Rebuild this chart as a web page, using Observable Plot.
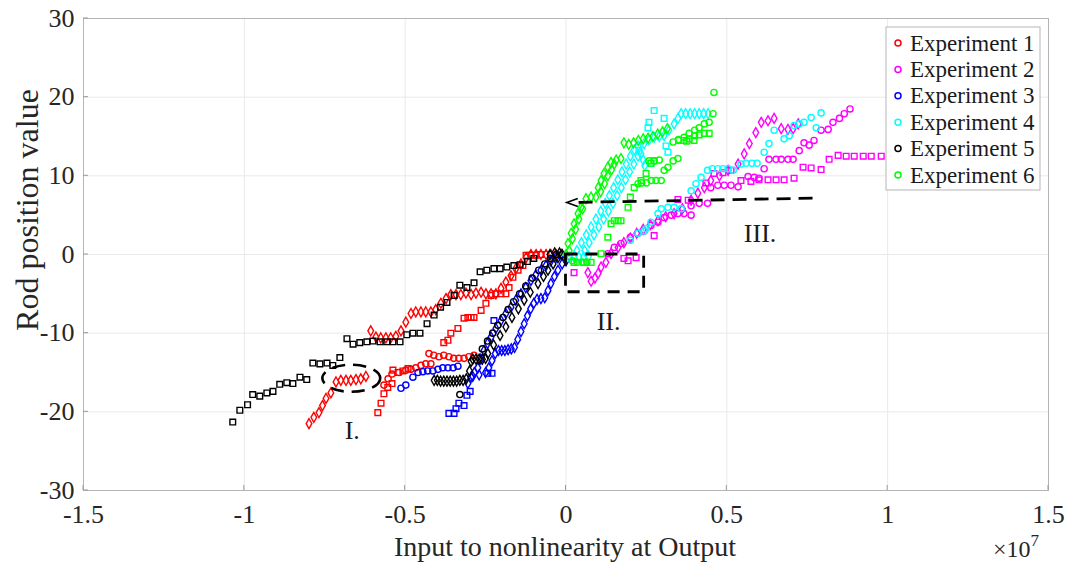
<!DOCTYPE html>
<html>
<head>
<meta charset="utf-8">
<script src="https://cdn.jsdelivr.net/npm/d3@7"></script>
<script src="https://cdn.jsdelivr.net/npm/@observablehq/plot@0.6"></script>
<style>
  html, body { margin: 0; padding: 0; background: #fff; }
  #chart { width: 1065px; height: 562px; }
</style>
</head>
<body>
<div id="chart"></div>
<script>
// ---------- axis ticks ----------
const xTicks = [-1.5, -1, -0.5, 0, 0.5, 1, 1.5];
const yTicks = [-30, -20, -10, 0, 10, 20, 30];

// ---------- legend ----------
const experimentNames = ["Experiment 1", "Experiment 2", "Experiment 3", "Experiment 4", "Experiment 5", "Experiment 6"];
const experimentColors = ["#ff0000", "#ff00ff", "#0000ff", "#00ffff", "#000000", "#00ff00"];

// ---------- data: [input (x10^7), rod position] ----------
// Experiment 1 (red)
const exp1Diamond = [
  [-0.799,-21.5],[-0.784,-20.7],[-0.768,-20.1],[-0.757,-19.2],[-0.746,-18.3],[-0.731,-17.6],[-0.715,-16.2],
  [-0.700,-16.0],[-0.684,-16.0],[-0.669,-16.0],[-0.653,-15.9],[-0.638,-15.8],[-0.622,-15.5],
  [-0.607,-9.7],[-0.591,-10.5],[-0.576,-10.6],[-0.560,-10.6],[-0.545,-10.6],[-0.529,-10.4],[-0.513,-9.7],
  [-0.498,-8.6],[-0.482,-7.5],[-0.467,-7.3],[-0.451,-7.3],[-0.436,-7.3],[-0.420,-7.3],[-0.405,-7.0],
  [-0.389,-6.2],[-0.373,-5.6],[-0.358,-5.1],[-0.342,-5.1],[-0.327,-5.1],[-0.311,-4.9],[-0.295,-5.1],
  [-0.280,-4.9],[-0.264,-4.8],[-0.249,-5.0],[-0.233,-5.0],[-0.218,-5.0],[-0.202,-4.3],[-0.187,-3.5],
  [-0.171,-2.7],[-0.156,-1.8],[-0.140,-1.2],[-0.124,-0.4],[-0.109,0],[-0.093,0],[-0.078,0],[-0.062,0],[-0.047,0],[-0.031,0]
];
const exp1Square = [
  [-0.585,-20.1],[-0.575,-18.9],[-0.566,-17.7],[-0.554,-16.9],[-0.541,-16.4],[-0.538,-14.7],
  [-0.522,-15.0],[-0.507,-14.8],[-0.491,-14.5],
  [-0.380,-11.2],[-0.367,-10.9],[-0.358,-10.0],[-0.336,-9.4],[-0.317,-8.1],[-0.305,-8.0],[-0.295,-8.0],[-0.286,-8.0],
  [-0.264,-7.1],[-0.249,-6.2],[-0.233,-5.2],[-0.218,-5.0],[-0.202,-5.0],[-0.187,-5.0],[-0.177,-4.2],
  [-0.165,-2.9],[-0.149,-2.0],[-0.134,-1.4],[-0.124,-0.1],[-0.109,-0.1],[-0.093,-0.1],[-0.078,0]
];
const exp1Circle = [
  [-0.566,-16.6],[-0.553,-15.8],[-0.541,-15.2],[-0.520,-15.0],[-0.498,-14.7],[-0.482,-14.6],[-0.467,-14.4],
  [-0.451,-14.1],[-0.436,-13.9],[-0.420,-13.9],
  [-0.426,-12.6],[-0.411,-12.8],[-0.395,-13.0],[-0.380,-12.8],[-0.364,-13.0],[-0.349,-13.2],[-0.333,-13.2],
  [-0.317,-13.2],[-0.302,-13.0],[-0.286,-12.8]
];

// Experiment 2 (magenta)
const exp2Diamond = [
  [0.068,-2.3],[0.078,-3.4],[0.090,-3.0],[0.100,-2.4],[0.109,-1.6],[0.124,-1.0],[0.140,0.1],[0.162,0.9],
  [0.180,1.5],[0.200,2.1],[0.220,2.7],[0.240,3.2],[0.262,3.8],[0.286,4.3],[0.310,4.8],[0.336,5.2],
  [0.362,5.8],[0.389,6.9],[0.410,7.8],[0.430,8.5],[0.450,9.4],[0.477,10.0],[0.504,10.7],[0.535,11.5],
  [0.554,12.8],[0.570,14.1],[0.590,15.5],[0.607,16.8],[0.628,17.0],[0.647,17.3],[0.669,16.0],[0.690,15.9],
  [0.706,16.0],[0.722,16.6]
];
const exp2Circle = [
  [0.130,0.1],[0.150,0.9],[0.171,1.4],[0.200,2.2],[0.224,2.7],[0.243,3.0],[0.264,3.7],[0.286,4.1],
  [0.305,4.7],[0.327,5.0],[0.348,5.2],[0.367,5.2],[0.389,5.0],[0.389,6.2],[0.414,6.5],[0.440,6.5],
  [0.450,8.5],[0.472,8.8],[0.492,8.8],[0.513,8.8],[0.535,8.6],[0.566,9.9],[0.585,9.8],[0.600,9.7],[0.616,10.9],
  [0.631,12.1],[0.653,12.1],[0.669,12.1],[0.690,12.1],[0.706,12.1],[0.725,13.2],[0.740,14.2],[0.756,13.9],
  [0.771,14.5],[0.793,15.8],[0.815,15.9],[0.830,16.8],[0.850,17.3],[0.865,17.9],[0.883,18.5]
];
const exp2Square = [
  [0.025,-2.3],[0.180,-0.5],[0.193,-0.8],[0.218,-0.4],[0.274,2.4],[0.348,7.0],[0.380,6.9],
  [0.435,9.1],[0.460,10.3],[0.488,10.4],[0.513,10.7],
  [0.544,9.4],[0.575,9.3],[0.600,9.5],[0.628,9.5],[0.653,9.5],[0.678,9.5],[0.709,9.7],
  [0.737,11.1],[0.762,11.0],[0.793,10.8],[0.818,12.1],[0.846,12.6],[0.871,12.5],[0.896,12.5],
  [0.924,12.5],[0.949,12.5],[0.980,12.5]
];

// Experiment 3 (blue)
const exp3Circle = [
  [-0.513,-17.0],[-0.498,-16.6],[-0.476,-15.6],[-0.460,-15.0],[-0.445,-14.9],[-0.430,-14.8],[-0.414,-14.8],
  [-0.398,-14.6],[-0.383,-14.4],[-0.367,-14.4],[-0.351,-14.4],[-0.336,-14.2]
];
const exp3Square = [
  [-0.364,-20.2],[-0.348,-20.2],[-0.342,-19.6],[-0.333,-18.9],[-0.317,-19.2],[-0.308,-17.9],[-0.298,-17.4],
  [-0.243,-15.1],[-0.230,-15.1],[-0.224,-8.4]
];
const exp3Diamond = [
  [-0.305,-16.4],[-0.295,-15.6],[-0.285,-15.0],[-0.274,-14.4],[-0.265,-13.3],[-0.255,-12.2],[-0.244,-11.3],
  [-0.233,-10.5],[-0.218,-9.4],[-0.202,-8.4],[-0.187,-7.5],[-0.171,-6.7],[-0.156,-5.8],[-0.140,-5.0],
  [-0.125,-4.2],[-0.109,-3.3],[-0.094,-2.6],[-0.078,-2.0],[-0.062,-1.4],[-0.047,-0.8],[-0.030,-0.3],[-0.015,0],
  [-0.290,-15.5],[-0.270,-15.3],[-0.250,-15.0],[-0.240,-14.4],[-0.230,-13.5],[-0.220,-12.6],[-0.210,-12.2],
  [-0.200,-12.2],[-0.190,-12.2],[-0.180,-12.1],[-0.170,-12.0],[-0.160,-11.8],[-0.150,-10.8],[-0.140,-9.8],
  [-0.130,-8.8],[-0.120,-7.8],[-0.110,-6.9],[-0.100,-6.2],[-0.090,-5.7],[-0.078,-5.6],[-0.066,-5.5],
  [-0.056,-4.6],[-0.047,-3.7],[-0.036,-2.8],[-0.025,-2.0],[-0.012,-1.2],[0.0,-0.8]
];

// Experiment 4 (cyan)
const exp4Diamond = [
  [0.010,-0.3],[0.025,-0.3],[0.040,-0.3],[0.055,-0.3],[0.070,-0.2],
  [0.034,0.5],[0.048,1.5],[0.063,2.5],[0.078,3.5],[0.093,4.5],[0.108,5.5],[0.122,6.5],[0.135,7.5],
  [0.148,8.5],[0.161,9.5],[0.174,10.5],[0.187,11.5],[0.200,12.5],[0.212,13.3],
  [0.058,0.5],[0.072,1.5],[0.087,2.5],[0.102,3.5],[0.117,4.5],[0.132,5.5],[0.146,6.5],[0.159,7.5],
  [0.172,8.5],[0.185,9.5],[0.198,10.5],[0.211,11.5],[0.224,12.5],
  [0.233,12.8],[0.240,12.0],[0.245,11.3],
  [0.224,13.8],[0.243,14.1],[0.258,14.6],[0.274,14.9],[0.290,15.0],[0.305,15.1],[0.320,15.8],[0.336,16.6],
  [0.348,17.3],[0.358,17.9],[0.372,17.9],[0.386,17.9],[0.400,17.9],[0.414,17.9],[0.428,17.9],[0.442,17.9]
];
const exp4Square = [
  [0.274,18.3],[0.258,16.8],[0.255,16.1],[0.305,17.3],[0.227,13.2],[0.311,13.8],[0.317,13.0],[0.264,11.6]
];
const exp4Circle = [
  [0.200,1.8],[0.224,2.7],[0.243,3.0],[0.249,3.3],[0.264,4.1],[0.286,5.2],[0.296,5.8],[0.317,6.0],
  [0.336,6.0],[0.358,5.8],[0.389,8.1],[0.404,9.0],[0.420,9.8],[0.440,10.7],[0.455,10.9],[0.472,10.9],
  [0.488,10.9],[0.504,10.9],[0.520,10.7],[0.544,11.5],[0.560,11.6],[0.578,11.6],[0.594,11.6],[0.616,13.0],
  [0.631,14.1],[0.647,15.8],[0.678,14.7],[0.694,15.1],[0.709,16.4],[0.725,16.6],[0.740,16.8],[0.762,17.4],
  [0.778,16.1],[0.793,18.0]
];

// Experiment 5 (black)
const exp5Square = [
  [-1.036,-21.3],[-1.014,-19.8],[-0.990,-19.1],[-0.974,-17.8],[-0.952,-18.0],[-0.930,-17.6],[-0.911,-17.4],
  [-0.890,-16.5],[-0.868,-16.3],[-0.849,-16.4],[-0.827,-15.6],[-0.806,-15.9],
  [-0.787,-13.8],[-0.765,-13.9],[-0.743,-13.8],[-0.725,-14.1],[-0.703,-13.1],
  [-0.681,-10.7],[-0.662,-11.4],[-0.641,-11.2],[-0.619,-11.1],[-0.600,-11.0],[-0.578,-11.1],[-0.557,-11.1],
  [-0.538,-11.1],[-0.516,-11.1],
  [-0.495,-10.2],[-0.476,-10.0],[-0.454,-10.0],[-0.432,-8.8],[-0.410,-7.7],[-0.390,-6.7],[-0.370,-6.1],
  [-0.348,-5.2],[-0.330,-3.9],[-0.308,-4.2],[-0.286,-3.6],[-0.267,-2.2],[-0.246,-2.0],[-0.224,-1.8],
  [-0.205,-1.8],[-0.184,-1.6],[-0.162,-1.4],[-0.143,-1.3],[-0.120,-0.9],[-0.100,-0.5]
];
const exp5Diamond = [
  [-0.410,-16.0],[-0.400,-16.0],[-0.390,-16.1],[-0.380,-16.1],[-0.370,-16.1],[-0.360,-16.1],[-0.350,-16.1],
  [-0.340,-16.1],[-0.330,-16.0],[-0.320,-16.0],[-0.310,-15.8],[-0.300,-14.8],[-0.295,-13.6],
  [-0.290,-13.3],[-0.280,-13.3],[-0.270,-13.3],[-0.260,-13.3],[-0.250,-13.2],
  [-0.243,-12.6],[-0.225,-11.5],[-0.205,-10.3],[-0.187,-9.2],[-0.168,-8.0],[-0.148,-6.9],[-0.130,-5.8],
  [-0.111,-4.8],[-0.087,-3.7],[-0.070,-2.8],[-0.056,-2.0],[-0.040,-1.2],[-0.025,-0.4],[-0.012,0],
  [-0.050,0],[-0.035,0.2],[-0.020,0.2]
];
const exp5Circle = [
  [-0.330,-17.8],
  [-0.260,-12.0],[-0.244,-11.0],[-0.228,-10.0],[-0.212,-9.0],[-0.196,-8.0],[-0.180,-7.0],[-0.163,-6.0],
  [-0.144,-5.0],[-0.125,-4.0],[-0.105,-3.0],[-0.085,-2.0],[-0.066,-1.2],[-0.048,-0.5],[-0.030,0]
];

// Experiment 6 (green)
const exp6Diamond = [
  [0.000,0.0],[0.006,1.4],[0.016,2.7],[0.025,3.9],[0.037,5.2],[0.047,6.0],[0.062,7.1],[0.078,7.3],
  [0.093,7.3],[0.100,8.5],[0.109,9.4],[0.118,10.3],[0.130,11.1],[0.140,11.7],[0.156,12.0],[0.171,12.2],
  [0.010,0.5],[0.020,2.0],[0.030,3.2],[0.040,4.5],[0.052,5.8],[0.108,8.0],[0.120,9.0],[0.130,10.0],
  [0.142,10.8],[0.150,11.5],
  [0.180,14.2],[0.195,14.0],[0.210,14.2],[0.225,14.5],[0.240,14.7],[0.255,14.8],[0.270,15.0],[0.285,15.3],
  [0.300,15.6],[0.315,16.0]
];
const exp6Circle = [
  [0.460,20.6],[0.457,17.9],[0.445,16.8],[0.430,16.6],[0.414,16.1],[0.400,15.8],[0.383,15.4],[0.367,14.9],
  [0.350,14.6],[0.333,14.3],
  [0.348,12.2],[0.333,11.9],[0.317,11.1],[0.305,10.7],[0.290,12.0],[0.274,11.9],[0.258,11.9],
  [0.296,9.4],[0.280,9.4],[0.265,9.4],[0.250,9.1],[0.235,9.1],[0.224,9.0],
  [0.020,-0.8],[0.035,-1.0],[0.050,-1.0],[0.065,-1.0]
];
const exp6Square = [
  [0.025,-1.0],[0.056,-1.0],[0.078,-1.0],[0.109,0.1],[0.130,2.2],[0.140,3.9],[0.150,4.3],[0.162,4.3],
  [0.171,4.3],[0.193,6.0],[0.200,7.3],[0.212,8.5],[0.233,9.4],[0.249,10.3],[0.264,11.6],[0.274,11.9],
  [0.350,14.5],[0.367,14.5],[0.375,14.4],[0.383,14.7],[0.398,14.5],[0.400,15.1],[0.414,15.2],[0.430,15.4],[0.445,15.4]
];

// ---------- annotations (data units) ----------
const ellipseI = { cx: -0.666, cy: -15.8, rx: 0.09, ry: 1.72 };
const rectII = { x1: 0.0, x2: 0.243, y1: 0.0, y2: -4.8 };
const arrowIII = { xFrom: 0.768, yFrom: 7.1, xTo: 0.004, yTo: 6.55 };
const annotationLabels = [
  { text: "I.", x: -0.663, y: -22.4 },
  { text: "II.", x: 0.134, y: -8.6 },
  { text: "III.", x: 0.605, y: 2.6 }
];

// ---------- series table ----------
const series = [
  { data: exp1Square, exp: 0, symbol: "square" },
  { data: exp1Circle, exp: 0, symbol: "circle" },
  { data: exp1Diamond, exp: 0, symbol: "diamond" },
  { data: exp2Square, exp: 1, symbol: "square" },
  { data: exp2Circle, exp: 1, symbol: "circle" },
  { data: exp2Diamond, exp: 1, symbol: "diamond" },
  { data: exp3Square, exp: 2, symbol: "square" },
  { data: exp3Circle, exp: 2, symbol: "circle" },
  { data: exp3Diamond, exp: 2, symbol: "diamond" },
  { data: exp4Square, exp: 3, symbol: "square" },
  { data: exp4Circle, exp: 3, symbol: "circle" },
  { data: exp4Diamond, exp: 3, symbol: "diamond" },
  { data: exp5Square, exp: 4, symbol: "square" },
  { data: exp5Circle, exp: 4, symbol: "circle" },
  { data: exp5Diamond, exp: 4, symbol: "diamond" },
  { data: exp6Square, exp: 5, symbol: "square" },
  { data: exp6Circle, exp: 5, symbol: "circle" },
  { data: exp6Diamond, exp: 5, symbol: "diamond" }
];

const symbolRadius = { circle: 3.1, square: 3.2, diamond: 3.0 };

const serif = "'Liberation Serif', 'Times New Roman', 'DejaVu Serif', serif";
const fmt = d => String(d);

const dotMarks = series.map(s => Plot.dot(s.data, {
  x: d => d[0],
  y: d => d[1],
  symbol: s.symbol,
  r: symbolRadius[s.symbol],
  stroke: experimentColors[s.exp],
  fill: "none",
  strokeWidth: 1.4
}));

const chart = Plot.plot({
  width: 1065,
  height: 562,
  marginLeft: 83,
  marginRight: 17,
  marginTop: 18,
  marginBottom: 72,
  x: { domain: [-1.5, 1.5] },
  y: { domain: [-30, 30] },
  style: { fontFamily: serif, fontSize: "26px", color: "#262626", background: "#fff", overflow: "visible" },
  marks: [
    Plot.gridX(xTicks, { stroke: "#e9e9e9", strokeOpacity: 1 }),
    Plot.gridY(yTicks, { stroke: "#e9e9e9", strokeOpacity: 1 }),
    ...dotMarks,
    Plot.frame({ stroke: "#b5b5b5" }),
    Plot.axisX(xTicks, { tickFormat: fmt, tickSize: 0, tickPadding: 14, label: null, fontSize: 26 }),
    Plot.axisY(yTicks, { tickFormat: fmt, tickSize: 0, tickPadding: 9, label: null, fontSize: 26 })
  ]
});

document.getElementById("chart").appendChild(chart);

// ---------- overlays: labels, annotations, legend ----------
const sx = chart.scale("x"), sy = chart.scale("y");
const X = v => sx.apply(v), Y = v => sy.apply(v);
const svg = d3.select(chart);

// small inward ticks on left and bottom axes
const tickG = svg.append("g").attr("stroke", "#9a9a9a").attr("stroke-width", 1);
yTicks.forEach(t => tickG.append("line").attr("x1", 83).attr("x2", 88).attr("y1", Y(t)).attr("y2", Y(t)));
xTicks.forEach(t => tickG.append("line").attr("x1", X(t)).attr("x2", X(t)).attr("y1", 490).attr("y2", 485));

// axis titles
svg.append("text")
  .attr("x", 565).attr("y", 556)
  .attr("text-anchor", "middle")
  .attr("font-family", serif).attr("font-size", 28).attr("fill", "#262626")
  .text("Input to nonlinearity at Output");
svg.append("text")
  .attr("transform", "translate(38,210) rotate(-90)")
  .attr("text-anchor", "middle")
  .attr("font-family", serif).attr("font-size", 32).attr("fill", "#262626")
  .text("Rod position value");
const expo = svg.append("text")
  .attr("x", 993).attr("y", 557)
  .attr("text-anchor", "start")
  .attr("font-family", serif).attr("font-size", 24).attr("fill", "#262626");
expo.append("tspan").text("\u00d710");
expo.append("tspan").attr("font-size", 17).attr("dy", -11).text("7");

// annotations
const ann = svg.append("g").attr("fill", "none").attr("stroke", "#000");
ann.append("ellipse")
  .attr("cx", X(ellipseI.cx)).attr("cy", Y(ellipseI.cy))
  .attr("rx", X(ellipseI.cx + ellipseI.rx) - X(ellipseI.cx))
  .attr("ry", Y(ellipseI.cy - ellipseI.ry) - Y(ellipseI.cy))
  .attr("stroke-width", 2.6).attr("stroke-dasharray", "13,8");
ann.append("rect")
  .attr("x", X(rectII.x1)).attr("y", Y(rectII.y1))
  .attr("width", X(rectII.x2) - X(rectII.x1)).attr("height", Y(rectII.y2) - Y(rectII.y1))
  .attr("stroke-width", 2.8).attr("stroke-dasharray", "12,8");
ann.append("line")
  .attr("x1", X(arrowIII.xFrom)).attr("y1", Y(arrowIII.yFrom))
  .attr("x2", X(arrowIII.xTo) + 6).attr("y2", Y(arrowIII.yTo))
  .attr("stroke-width", 2.8).attr("stroke-dasharray", "14,8");
{
  const tx = X(arrowIII.xTo), ty = Y(arrowIII.yTo);
  ann.append("path")
    .attr("d", `M${tx + 11},${ty - 4} L${tx},${ty} L${tx + 11},${ty + 4}`)
    .attr("stroke-width", 1.6);
}
annotationLabels.forEach(a => {
  svg.append("text")
    .attr("x", X(a.x)).attr("y", Y(a.y))
    .attr("text-anchor", "middle").attr("dominant-baseline", "central")
    .attr("font-family", serif).attr("font-size", 26).attr("fill", "#1a1a1a")
    .text(a.text);
});

// legend
const leg = svg.append("g");
leg.append("rect")
  .attr("x", 886).attr("y", 27).attr("width", 154).attr("height", 163)
  .attr("fill", "#fff").attr("stroke", "#b5b5b5").attr("stroke-width", 1);
experimentNames.forEach((name, i) => {
  const cy = 43 + i * 26.4;
  leg.append("circle").attr("cx", 898).attr("cy", cy).attr("r", 3)
    .attr("fill", "none").attr("stroke", experimentColors[i]).attr("stroke-width", 1.5);
  leg.append("text").attr("x", 910).attr("y", cy)
    .attr("text-anchor", "start")
    .attr("dominant-baseline", "central")
    .attr("font-family", serif).attr("font-size", 23).attr("fill", "#1a1a1a")
    .text(name);
});
</script>
</body>
</html>
